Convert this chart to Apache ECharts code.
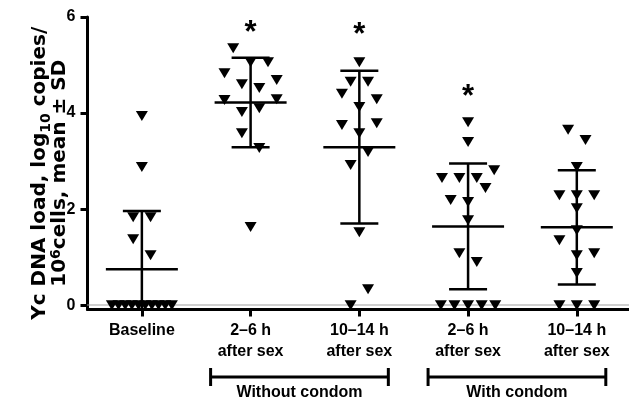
<!DOCTYPE html>
<html><head><meta charset="utf-8">
<script src="https://cdn.jsdelivr.net/npm/echarts@6/dist/echarts.min.js"></script>
<style>html,body{margin:0;padding:0;background:#fff}#c{width:629px;height:399px}</style>
</head><body><div id="c"></div>
<script>
// ---- data ----
const categories = ['Baseline', '2–6 h\nafter sex', '10–14 h\nafter sex', '2–6 h\nafter sex', '10–14 h\nafter sex'];
const yTicks = [0, 2, 4, 6];
const groupNames = ['Without condom', 'With condom'];
const groupSpans = [[1, 2], [3, 4]];

const baselineVals   = [3.94, 2.875, 1.83, 1.83, 1.375, 1.04, 0, 0, 0, 0, 0, 0, 0, 0, 0, 0];
const baselineJitter = [0, 0, -0.08, 0.08, -0.08, 0.08, -0.276, -0.215, -0.153, -0.092, -0.031, 0.031, 0.092, 0.153, 0.215, 0.276];

const noCondom2to6Vals   = [5.35, 5.06, 5.06, 4.83, 4.69, 4.60, 4.52, 4.27, 4.29, 4.02, 4.10, 3.58, 3.27, 1.63];
const noCondom2to6Jitter = [-0.16, 0, 0.16, -0.24, 0.24, -0.08, 0.08, -0.24, 0.24, -0.08, 0.08, -0.08, 0.08, 0];

const noCondom10to14Vals   = [5.06, 4.65, 4.65, 4.40, 4.29, 4.125, 3.75, 3.79, 3.58, 3.19, 2.92, 1.52, 0.33, 0];
const noCondom10to14Jitter = [0, -0.08, 0.08, -0.16, 0.16, 0, -0.16, 0.16, 0, 0.08, -0.08, 0, 0.08, -0.08];

const condom2to6Vals   = [3.81, 3.40, 2.81, 2.65, 2.65, 2.65, 2.44, 2.19, 2.15, 1.77, 1.08, 0.90, 0, 0, 0, 0, 0];
const condom2to6Jitter = [0, 0, 0.24, -0.24, -0.08, 0.08, 0.16, -0.16, 0, 0, -0.08, 0.08, -0.25, -0.125, 0, 0.125, 0.25];

const condom10to14Vals   = [3.65, 3.44, 2.875, 2.29, 2.29, 2.29, 2.02, 1.56, 1.35, 1.04, 1.08, 0.67, 0, 0, 0];
const condom10to14Jitter = [-0.08, 0.08, 0, -0.16, 0, 0.16, 0, 0, -0.16, 0, 0.16, 0, -0.16, 0, 0.16];

const means = [0.75, 4.22, 3.29, 1.64, 1.62];
const sds   = [1.21, 0.93, 1.59, 1.31, 1.19];
const starHeights = [null, 5.77, 5.73, 4.42, null];

// ---- build ----
const FONT = "'Liberation Sans', Arial, Helvetica, sans-serif";
const TFONT = "'DejaVu Sans', sans-serif";
const Y_MIN = -0.09, Y_MAX = 6;
const groupVals = [baselineVals, noCondom2to6Vals, noCondom10to14Vals, condom2to6Vals, condom10to14Vals];
const groupJit  = [baselineJitter, noCondom2to6Jitter, noCondom10to14Jitter, condom2to6Jitter, condom10to14Jitter];
const points = [];
groupVals.forEach((vals, g) => vals.forEach((v, k) => points.push([g + groupJit[g][k], v])));
const errData = means.map((m, i) => [i, m, sds[i]]);
const starData = [];
starHeights.forEach((h, i) => { if (h != null) starData.push([i, h]); });

const chart = echarts.init(document.getElementById('c'), null, {renderer: 'canvas'});
chart.setOption({
  animation: false,
  backgroundColor: '#fff',
  grid: {left: 87.5, right: 0, top: 17, bottom: 89.5},
  xAxis: {
    type: 'value', min: -0.5, max: 4.48,
    splitLine: {show: false},
    axisLine: {onZero: false, lineStyle: {color: '#000', width: 3}},
    axisTick: {customValues: [0, 1, 2, 3, 4], length: 7, lineStyle: {color: '#000', width: 3}},
    axisLabel: {customValues: [0, 1, 2, 3, 4], formatter: v => categories[Math.round(v)],
      color: '#000', fontSize: 16, fontWeight: 'bold', fontFamily: FONT, lineHeight: 21, margin: 11}
  },
  yAxis: {
    type: 'value', min: Y_MIN, max: Y_MAX,
    splitLine: {show: false},
    axisLine: {onZero: false, lineStyle: {color: '#000', width: 3}},
    axisTick: {customValues: yTicks, length: 7, lineStyle: {color: '#000', width: 3}},
    axisLabel: {customValues: yTicks, color: '#000', fontSize: 16, fontWeight: 'bold', fontFamily: FONT, margin: 12},
    name: '{a|Yc DNA load, log}{s|10}{a| copies/}\n{a|10}{p|6}{a|cells, mean ± SD}',
    nameLocation: 'middle', nameRotate: 90, nameGap: 18, nameMoveOverlap: false,
    nameTextStyle: {
      padding: [0, 20, 0, 0],
      rich: {
        a: {fontSize: 20, fontWeight: 'bold', fontFamily: TFONT, color: '#000', lineHeight: 20},
        s: {fontSize: 14, fontWeight: 'bold', fontFamily: TFONT, color: '#000', lineHeight: 14, verticalAlign: 'bottom', padding: [0, 0, -4, 0]},
        p: {fontSize: 14, fontWeight: 'bold', fontFamily: TFONT, color: '#000', lineHeight: 14, verticalAlign: 'top'}
      }
    }
  },
  series: [
    {
      type: 'custom', clip: false, z: 2,
      data: errData,
      renderItem: (params, api) => {
        const i = api.value(0), m = api.value(1), s = api.value(2);
        const c = api.coord([i, m]);
        const t = api.coord([i, m + s]);
        const lowV = Math.max(m - s, Y_MIN);
        const b = api.coord([i, lowV]);
        const st = {stroke: '#000', lineWidth: 2.5};
        const ch = [
          {type: 'line', shape: {x1: c[0] - 36, y1: c[1], x2: c[0] + 36, y2: c[1]}, style: st},
          {type: 'line', shape: {x1: t[0] - 19, y1: t[1], x2: t[0] + 19, y2: t[1]}, style: st},
          {type: 'line', shape: {x1: c[0], y1: t[1], x2: c[0], y2: b[1]}, style: st}
        ];
        if (m - s > 0) ch.push({type: 'line', shape: {x1: b[0] - 19, y1: b[1], x2: b[0] + 19, y2: b[1]}, style: st});
        return {type: 'group', children: ch};
      }
    },
    {
      type: 'scatter', z: 3,
      data: points,
      symbol: 'triangle', symbolRotate: 180, symbolSize: [12, 10],
      itemStyle: {color: '#000', opacity: 1},
      markLine: {
        silent: true, symbol: 'none', z: 1,
        label: {show: false},
        lineStyle: {color: '#a0a0a0', type: [1, 1], width: 2},
        data: [{yAxis: 0}]
      }
    },
    {
      type: 'custom', clip: false, z: 4,
      data: starData,
      renderItem: (params, api) => {
        const c = api.coord([api.value(0), api.value(1)]);
        return {type: 'text', x: c[0], y: c[1] + 5,
          style: {text: '*', fill: '#000', font: 'bold 31px ' + FONT, textAlign: 'center', textVerticalAlign: 'middle'}};
      }
    },
    {
      type: 'custom', clip: false, z: 4,
      data: groupSpans,
      renderItem: (params, api) => {
        const a = api.coord([api.value(0), Y_MIN]);
        const b = api.coord([api.value(1), Y_MIN]);
        const x1 = a[0] - 40, x2 = b[0] + 29, y = a[1] + 67.5;
        const st = {stroke: '#000', lineWidth: 3};
        return {type: 'group', children: [
          {type: 'line', shape: {x1: x1, y1: y, x2: x2, y2: y}, style: st},
          {type: 'line', shape: {x1: x1, y1: y - 9, x2: x1, y2: y + 9}, style: st},
          {type: 'line', shape: {x1: x2, y1: y - 9, x2: x2, y2: y + 9}, style: st},
          {type: 'text', x: (x1 + x2) / 2, y: y + 16,
            style: {text: groupNames[params.dataIndex], fill: '#000', font: 'bold 16px ' + FONT, textAlign: 'center', textVerticalAlign: 'middle'}}
        ]};
      }
    }
  ]
});
</script>
</body></html>
